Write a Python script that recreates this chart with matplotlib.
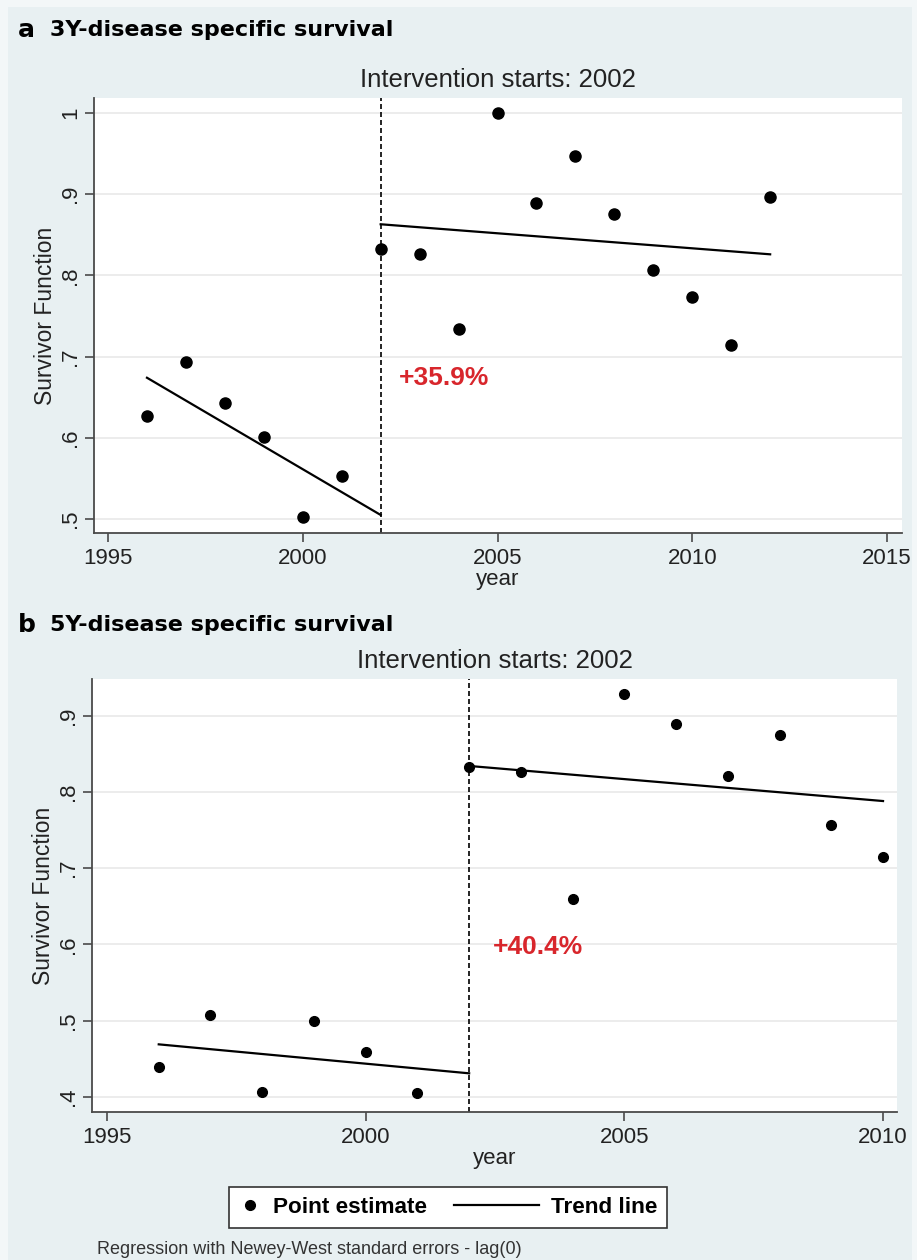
import numpy as np
import matplotlib

matplotlib.use("Agg")
import matplotlib.pyplot as plt  # noqa: E402
from matplotlib.legend_handler import HandlerLine2D  # noqa: E402
from matplotlib.lines import Line2D  # noqa: E402
from matplotlib.patches import Rectangle  # noqa: E402

# --- panel a: 3Y disease specific survival ---
YEARS_A = [1996, 1997, 1998, 1999, 2000, 2001, 2002, 2003, 2004,
           2005, 2006, 2007, 2008, 2009, 2010, 2011, 2012]
SURV_A = [0.627, 0.693, 0.643, 0.601, 0.502, 0.553, 0.832, 0.826, 0.734,
          1.000, 0.889, 0.947, 0.876, 0.807, 0.773, 0.714, 0.897]
TREND_A_PRE_X = [1996, 2002]
TREND_A_PRE_Y = [0.674, 0.505]
TREND_A_POST_X = [2002, 2012]
TREND_A_POST_Y = [0.863, 0.826]
XTICKS_A = [1995, 2000, 2005, 2010, 2015]
YTICKS_A = [0.5, 0.6, 0.7, 0.8, 0.9, 1.0]
YLABELS_A = [".5", ".6", ".7", ".8", ".9", "1"]
CHANGE_A = "+35.9%"

# --- panel b: 5Y disease specific survival ---
YEARS_B = [1996, 1997, 1998, 1999, 2000, 2001, 2002, 2003,
           2004, 2005, 2006, 2007, 2008, 2009, 2010]
SURV_B = [0.439, 0.507, 0.407, 0.500, 0.459, 0.405, 0.832, 0.826,
          0.660, 0.928, 0.889, 0.821, 0.875, 0.756, 0.714]
TREND_B_PRE_X = [1996, 2002]
TREND_B_PRE_Y = [0.469, 0.431]
TREND_B_POST_X = [2002, 2010]
TREND_B_POST_Y = [0.834, 0.788]
XTICKS_B = [1995, 2000, 2005, 2010]
YTICKS_B = [0.4, 0.5, 0.6, 0.7, 0.8, 0.9]
YLABELS_B = [".4", ".5", ".6", ".7", ".8", ".9"]
CHANGE_B = "+40.4%"

INTERVENTION_YEAR = 2002
TITLE_A = "3Y-disease specific survival"
TITLE_B = "5Y-disease specific survival"
FOOTNOTE = "Regression with Newey-West standard errors - lag(0)"

W, H = 917, 1260
BG = "#e8f0f2"
AXIS_GREY = "#4a4a4a"
RED = "#d8262c"
FONT = ["Liberation Sans", "DejaVu Sans"]

plt.rcParams["font.family"] = FONT


class LongLineHandler(HandlerLine2D):
    """Legend line that reaches further left than its handle box."""

    def get_xdata(self, legend, xdescent, ydescent, width, height, fontsize):
        x1 = -xdescent + width
        xs = np.array([x1 - 3.8 * fontsize, x1])
        return xs, xs


def draw_panel(ax, years, surv, pre, post, xticks, yticks, ylabels, xlim, ylim, change, change_xy, ms):
    ax.set_facecolor("white")
    ax.set_xlim(*xlim)
    ax.set_ylim(*ylim)
    ax.grid(axis="y", color="#e9e9e9", linewidth=1.2)
    ax.set_axisbelow(True)

    ax.axvline(INTERVENTION_YEAR, color="black", linestyle=(0, (3, 1.8)), linewidth=1.2, zorder=2)
    ax.plot(pre[0], pre[1], color="black", linewidth=1.6, zorder=3)
    ax.plot(post[0], post[1], color="black", linewidth=1.6, zorder=3)
    ax.plot(years, surv, linestyle="none", marker="o", color="black", markersize=ms, zorder=4)

    ax.text(change_xy[0], change_xy[1], change, color=RED, fontsize=19, fontweight="bold",
            ha="left", va="center")

    ax.set_xticks(xticks)
    ax.set_xticklabels([str(t) for t in xticks])
    ax.set_yticks(yticks)
    ax.set_yticklabels(ylabels)
    for lab in ax.get_yticklabels():
        lab.set_rotation(90)
        lab.set_va("center")
    ax.tick_params(axis="both", direction="out", length=6.5, width=1.2, color=AXIS_GREY,
                   labelsize=16, labelcolor="#222222")
    ax.tick_params(axis="x", pad=4)
    ax.tick_params(axis="y", pad=3)

    for side in ("top", "right"):
        ax.spines[side].set_visible(False)
    for side in ("left", "bottom"):
        ax.spines[side].set_color(AXIS_GREY)
        ax.spines[side].set_linewidth(1.3)

    ax.set_xlabel("year", fontsize=16, color="#222222", labelpad=0)
    ax.set_ylabel("Survivor Function", fontsize=16.5, color="#222222", labelpad=2)
    ax.text(0.5, 1.042, "Intervention starts: 2002", transform=ax.transAxes,
            ha="center", va="center", fontsize=18.5, color="#222222")


def main():
    fig = plt.figure(figsize=(W / 100, H / 100), dpi=100)
    fig.patch.set_facecolor("#f3f7f8")
    fig.patches.append(Rectangle((8 / W, 0), 904 / W, 1 - 7 / H, transform=fig.transFigure,
                                 facecolor=BG, edgecolor="none", zorder=-5))

    ax_a = fig.add_axes([94 / W, 1 - 533 / H, 808 / W, 435 / H])
    draw_panel(ax_a, YEARS_A, SURV_A, (TREND_A_PRE_X, TREND_A_PRE_Y), (TREND_A_POST_X, TREND_A_POST_Y),
               XTICKS_A, YTICKS_A, YLABELS_A, (1994.64, 2015.385), (0.4828, 1.0185),
               CHANGE_A, (2002.46, 0.674), 8)

    ax_b = fig.add_axes([92 / W, 1 - 1112 / H, 805 / W, 433 / H])
    draw_panel(ax_b, YEARS_B, SURV_B, (TREND_B_PRE_X, TREND_B_PRE_Y), (TREND_B_POST_X, TREND_B_POST_Y),
               XTICKS_B, YTICKS_B, YLABELS_B, (1994.71, 2010.27), (0.3803, 0.948),
               CHANGE_B, (2002.46, 0.597), 7)

    # panel headings
    for letter, title, yc in (("a", TITLE_A, 30), ("b", TITLE_B, 625)):
        fig.text(18 / W, 1 - yc / H, letter, fontsize=18, fontweight="bold",
                 family=["DejaVu Sans"], ha="left", va="center")
        fig.text(50 / W, 1 - yc / H, title, fontsize=16, fontweight="bold",
                 family=["DejaVu Sans"], ha="left", va="center")

    handles = [
        Line2D([], [], linestyle="none", marker="o", color="black", markersize=7),
        Line2D([], [], color="black", linewidth=1.6),
    ]
    leg = fig.legend(handles, ["Point estimate", "Trend line"], ncol=2, loc="center",
                     bbox_to_anchor=(448 / W, 1 - 1207.5 / H), frameon=True, fancybox=False,
                     handlelength=1.0, handletextpad=0.5, columnspacing=4.0, borderpad=0.45,
                     numpoints=1, prop={"weight": "bold", "size": 16.2},
                     handler_map={handles[1]: LongLineHandler()})
    frame = leg.get_frame()
    frame.set_edgecolor("#333333")
    frame.set_linewidth(1.2)
    frame.set_facecolor("white")
    frame.set_alpha(1)

    fig.text(97 / W, 1 - 1250 / H, FOOTNOTE, fontsize=13, color="#333333", ha="left", va="center")

    fig.savefig("out.png", dpi=100, facecolor=fig.get_facecolor())
    plt.close(fig)


if __name__ == "__main__":
    main()
